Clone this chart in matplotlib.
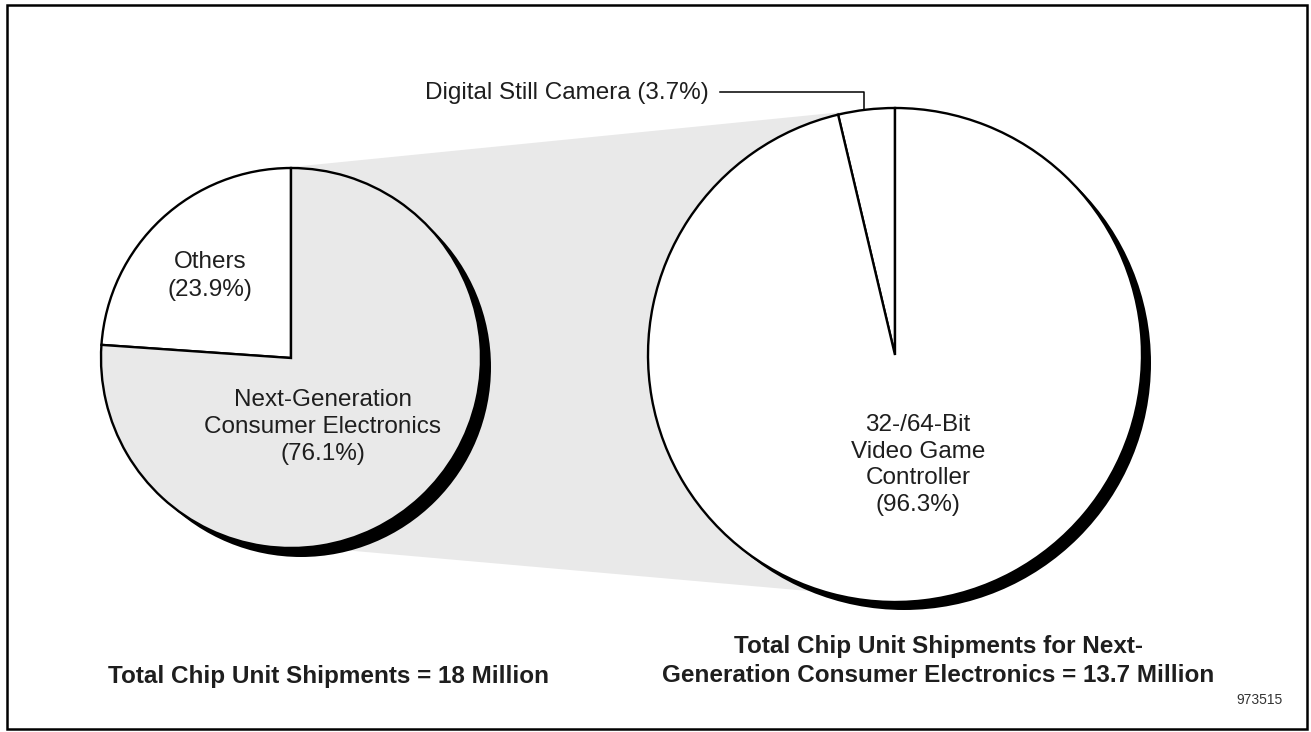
import numpy as np
import matplotlib.pyplot as plt
from matplotlib.patches import Circle, Polygon, Rectangle

plt.rcParams['font.family'] = ['Liberation Sans', 'DejaVu Sans']

# data
left_labels = ["Others", "Next-Generation\nConsumer Electronics"]
left_shares = [23.9, 76.1]
right_labels = ["Digital Still Camera", "32-/64-Bit\nVideo Game\nController"]
right_shares = [3.7, 96.3]
left_total = 18       # million units
right_total = 13.7    # million units
figure_id = "973515"

W, H = 1311, 732
GRAY = '#e9e9e9'
INK = '#1e1e1e'


def Y(y):
    # pixel row (top = 0) to data y
    return H - y


def draw_pie(ax, shares, colors, cx, cy, r, shadow=(9, 9)):
    ax.add_patch(Circle((cx + shadow[0], Y(cy) - shadow[1]), r,
                        facecolor='black', edgecolor='none', zorder=2))
    wedges, _ = ax.pie(shares, colors=colors, startangle=90,
                       counterclock=True, center=(cx, Y(cy)), radius=r,
                       wedgeprops=dict(edgecolor='black', linewidth=1.7))
    for w in wedges:
        w.set_zorder(3)
    return wedges


def tangent_points(c1, r1, c2, r2, sign):
    # outer tangent of two circles, sign=+1 upper, -1 lower
    dx, dy = c2[0] - c1[0], c2[1] - c1[1]
    d = np.hypot(dx, dy)
    ux, uy = dx / d, dy / d
    a = np.arcsin((r2 - r1) / d)
    nx, ny = -uy * sign, ux * sign
    c, s = np.cos(a * sign), np.sin(a * sign)
    nx, ny = nx * c - ux * s, ny * c - uy * s
    p1 = (c1[0] + r1 * nx, c1[1] + r1 * ny)
    p2 = (c2[0] + r2 * nx, c2[1] + r2 * ny)
    return p1, p2


fig = plt.figure(figsize=(W / 100, H / 100), dpi=100)
ax = fig.add_axes([0, 0, 1, 1])

# pie geometry (pixels)
lc, lr = (291, 358), 190
rc, rr = (895, 355), 247

# connecting funnel
c1 = (lc[0], Y(lc[1]))
c2 = (rc[0], Y(rc[1]))
t1, t2 = tangent_points(c1, lr, c2, rr, 1)
b1, b2 = tangent_points(c1, lr, c2, rr, -1)
ax.add_patch(Polygon([t1, t2, b2, b1], closed=True, facecolor=GRAY,
                     edgecolor='none', zorder=1))

draw_pie(ax, left_shares, ['white', GRAY], lc[0], lc[1], lr, shadow=(10, 9))
draw_pie(ax, right_shares, ['white', 'white'], rc[0], rc[1], rr, shadow=(9, 8))

ax.set_xlim(0, W)
ax.set_ylim(0, H)
ax.set_aspect('auto')
ax.axis('off')

fs = 17.5
# left pie labels
ax.text(210, Y(276), f"{left_labels[0]}\n({left_shares[0]}%)", ha='center',
        va='center', fontsize=fs, color=INK, linespacing=1.4, zorder=5)
ax.text(323, Y(427), f"{left_labels[1]}\n({left_shares[1]}%)", ha='center',
        va='center', fontsize=fs, color=INK, linespacing=1.27, zorder=5)

# right pie labels
ax.text(918, Y(465), f"{right_labels[1]}\n({right_shares[1]}%)", ha='center',
        va='center', fontsize=fs, color=INK, linespacing=1.29, zorder=5)
ax.text(425, Y(93), f"{right_labels[0]} ({right_shares[0]}%)", ha='left',
        va='center', fontsize=fs, color=INK, zorder=5)
ax.plot([720, 864, 864], [Y(92), Y(92), Y(110)], color='black', lw=1.1,
        zorder=4)

# totals
ax.text(329, Y(676), f"Total Chip Unit Shipments = {left_total} Million",
        ha='center', va='center', fontsize=fs, fontweight='bold', color=INK)
ax.text(938, Y(661), "Total Chip Unit Shipments for Next-\n"
        f"Generation Consumer Electronics = {right_total} Million",
        ha='center', va='center', fontsize=fs, fontweight='bold', color=INK,
        linespacing=1.33)
ax.text(1283, Y(700), figure_id, ha='right', va='center', fontsize=10,
        color='#333333')

# frame
ax.add_patch(Rectangle((7, Y(729)), 1300, 724, facecolor='none',
                       edgecolor='black', lw=1.8, zorder=6))

fig.savefig('out.png', dpi=100)
